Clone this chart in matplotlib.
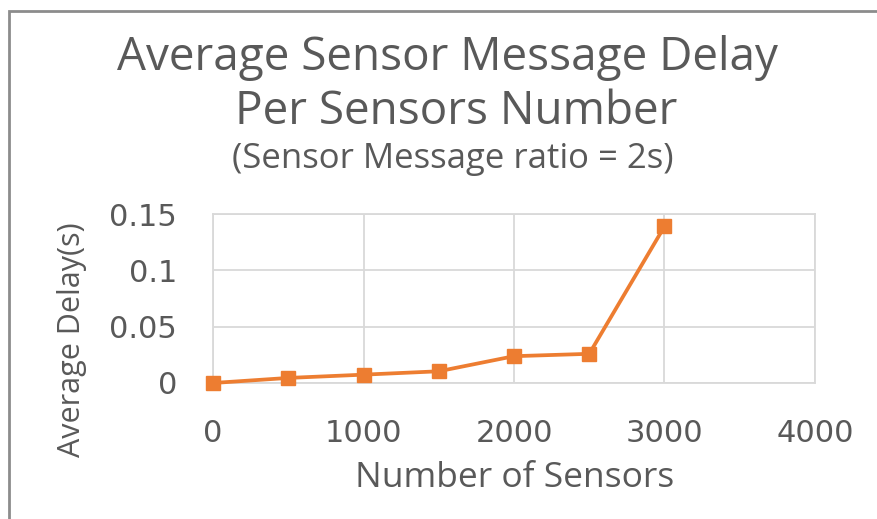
import matplotlib
matplotlib.use("Agg")
import matplotlib.pyplot as plt
from matplotlib.patches import Rectangle

sensors = [0, 500, 1000, 1500, 2000, 2500, 3000]
delay = [0.0, 0.0045, 0.0074, 0.0104, 0.0238, 0.0259, 0.139]
xticks = [0, 1000, 2000, 3000, 4000]
yticks = [0, 0.05, 0.1, 0.15]
ytick_labels = ["0", "0.05", "0.1", "0.15"]

title1 = "Average Sensor Message Delay"
title2 = "Per Sensors Number"
title3 = "(Sensor Message ratio = 2s)"

TXT = "#595959"
ORANGE = "#ED7D31"
GRID = "#d9d9d9"

W, H = 877, 519
fig = plt.figure(figsize=(W / 100, H / 100), dpi=100)
fig.patch.set_facecolor("white")

# outer frame (left and top visible)
fig.patches.append(Rectangle((9 / W, -0.1), 1.2, 1 - 11 / H + 0.1,
                             transform=fig.transFigure, fill=False,
                             edgecolor="#8c8c8c", linewidth=2.0))

ax = fig.add_axes([213 / W, 1 - 383 / H, (815 - 213) / W, (383 - 214) / H])
ax.plot(sensors, delay, color=ORANGE, linewidth=2.7, marker="s",
        markersize=10.5, markerfacecolor=ORANGE, markeredgecolor=ORANGE,
        clip_on=False, zorder=3)
ax.set_xlim(0, 4000)
ax.set_ylim(0, 0.15)
ax.set_xticks(xticks)
ax.set_xticklabels([str(v) for v in xticks])
ax.set_yticks(yticks)
ax.set_yticklabels(ytick_labels)
ax.grid(True, color=GRID, linewidth=1.3)
ax.set_axisbelow(True)
for s in ax.spines.values():
    s.set_color(GRID)
    s.set_linewidth(1.3)
ax.tick_params(length=0, colors=TXT, pad=26)
for lab in ax.get_xticklabels() + ax.get_yticklabels():
    lab.set_family("DejaVu Sans")
    lab.set_fontsize(22)

fig.text(0.510, 1 - 58 / H, title1, ha="center", va="center",
         fontsize=33, color=TXT, family="Open Sans")
fig.text(0.520, 1 - 112 / H, title2, ha="center", va="center",
         fontsize=33, color=TXT, family="Open Sans")
fig.text(0.516, 1 - 159 / H, title3, ha="center", va="center",
         fontsize=25, color=TXT, family="Open Sans")
fig.text(72 / W, 1 - 340 / H, "Average Delay(s)", ha="center", va="center",
         rotation=90, fontsize=22, color=TXT, family="Open Sans")
fig.text(515 / W, 1 - 478 / H, "Number of Sensors", ha="center", va="center",
         fontsize=25.5, color=TXT, family="Open Sans")

fig.savefig("out.png", dpi=100)
